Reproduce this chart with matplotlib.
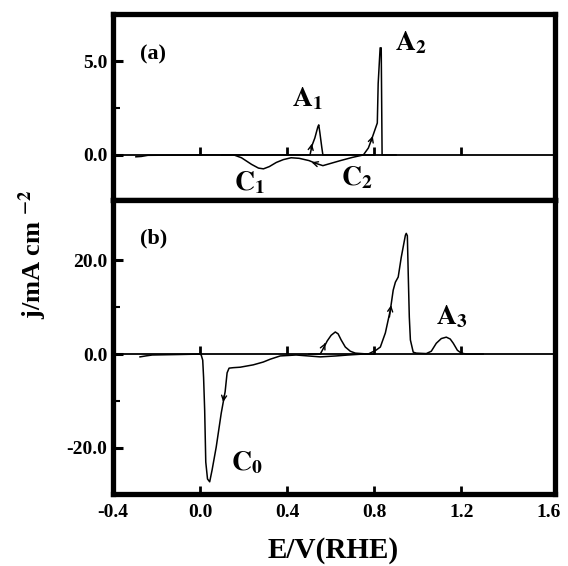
import numpy as np
import matplotlib.pyplot as plt

plt.rcParams['font.family'] = 'Liberation Serif'
plt.rcParams['font.weight'] = 'bold'
plt.rcParams['mathtext.fontset'] = 'stix'

# painel (a): varredura anodica e catodica (E em V, j em mA cm-2)
Ea_pos = [-0.295, -0.27, -0.24, 0.0, 0.3, 0.505, 0.514, 0.527, 0.541, 0.545,
          0.55, 0.559, 0.564, 0.7, 0.75, 0.773, 0.79, 0.805, 0.814, 0.818,
          0.827, 0.832, 0.836, 0.9]
ja_pos = [-0.1, -0.08, -0.02, 0.0, 0.0, 0.0, 0.5, 0.9, 1.5, 1.6,
          1.2, 0.4, 0.0, 0.0, 0.0, 0.37, 0.9, 1.4, 1.7, 3.8,
          5.7, 5.7, 0.0, 0.0]
Ea_neg = [0.1, 0.155, 0.19, 0.236, 0.268, 0.291, 0.318, 0.35, 0.382, 0.418,
          0.455, 0.5, 0.532, 0.564, 0.6, 0.645, 0.7, 0.75, 0.8]
ja_neg = [0.0, 0.0, -0.15, -0.5, -0.7, -0.74, -0.62, -0.4, -0.25, -0.15,
          -0.18, -0.3, -0.45, -0.57, -0.45, -0.3, -0.13, 0.0, 0.0]

# painel (b)
Eb_pos = [0.5, 0.552, 0.566, 0.584, 0.602, 0.621, 0.634, 0.648, 0.667, 0.69,
          0.713, 0.772, 0.809, 0.828, 0.851, 0.874, 0.887, 0.897, 0.91, 0.924,
          0.943, 0.947, 0.952, 0.956, 0.961, 0.966, 0.979, 0.993, 1.039, 1.062,
          1.085, 1.108, 1.131, 1.149, 1.163, 1.182, 1.2, 1.223, 1.3]
jb_pos = [0.0, 0.0, 1.2, 2.8, 4.0, 4.7, 4.3, 3.0, 1.5, 0.6,
          0.2, 0.0, 0.85, 1.5, 4.5, 9.4, 13.6, 15.3, 16.4, 20.6,
          25.3, 25.7, 25.2, 17.2, 7.9, 3.0, 0.4, 0.2, 0.1, 0.6,
          2.3, 3.3, 3.6, 3.2, 2.3, 0.8, 0.2, 0.0, 0.0]
Eb_neg = [-0.276, -0.25, -0.22, -0.1, 0.0, 0.005, 0.012, 0.016, 0.021, 0.026,
          0.034, 0.044, 0.055, 0.074, 0.097, 0.115, 0.124, 0.133, 0.152, 0.184,
          0.244, 0.29, 0.322, 0.368, 0.441, 0.552, 0.625, 0.68, 0.749, 0.8]
jb_neg = [-0.6, -0.4, -0.2, -0.1, 0.0, -0.2, -1.3, -5.0, -12.0, -23.0,
          -26.6, -27.2, -24.7, -19.8, -12.6, -8.0, -4.0, -3.0, -2.9, -2.8,
          -2.3, -1.7, -1.1, -0.4, -0.2, -0.6, -0.4, -0.2, 0.0, 0.0]

xticks = [-0.4, 0.0, 0.4, 0.8, 1.2, 1.6]
xticklabels = ['-0.4', '0.0', '0.4', '0.8', '1.2', '1.6']
xlim = (-0.4, 1.63)
ylim_a = (-2.4, 7.5)
ylim_b = (-29.8, 32.8)

fig = plt.figure(figsize=(5.68, 5.66), dpi=100)
ax_a = fig.add_axes([0.199, 0.6466, 0.778, 0.3286])
ax_b = fig.add_axes([0.199, 0.1272, 0.778, 0.5194])

arr = dict(arrowstyle='->', lw=1.0, color='black', mutation_scale=9)

def style(ax, ylim, yt, ytl, ymin):
    ax.set_xlim(xlim)
    ax.set_ylim(ylim)
    for s in ax.spines.values():
        s.set_linewidth(3.8)
    ax.set_yticks(yt)
    ax.set_yticklabels(ytl, fontsize=14, fontweight='bold')
    ax.set_yticks(ymin, minor=True)
    ax.tick_params(axis='y', which='major', direction='in', length=7, width=2.2, pad=4)
    ax.tick_params(axis='y', which='minor', direction='in', length=5, width=1.5)
    # linha do zero com marcas
    frac = (0 - ylim[0]) / (ylim[1] - ylim[0])
    sec = ax.secondary_xaxis(frac)
    sec.set_xticks([0.0, 0.4, 0.8, 1.2])
    sec.set_xticklabels([])
    sec.tick_params(direction='in', length=6, width=2)
    sec.spines['bottom'].set_linewidth(1.3)

# (a)
ax = ax_a
style(ax, ylim_a, [0.0, 5.0], ['0.0', '5.0'], [2.5])
ax.set_xticks([])
ax.plot(Ea_pos, ja_pos, color='black', lw=1.1)
ax.plot(Ea_neg, ja_neg, color='black', lw=1.1)
ax.annotate('', xy=(0.516, 0.75), xytext=(0.507, 0.2), arrowprops=arr)
ax.annotate('', xy=(0.512, -0.39), xytext=(0.535, -0.47), arrowprops=arr)
ax.annotate('', xy=(0.797, 1.15), xytext=(0.782, 0.6), arrowprops=arr)
ax.text(-0.215, 5.37, '(a)', fontsize=16, fontweight='bold', ha='center', va='center')
ax.text(0.495, 3.0, r'$\mathbf{A}_{\mathbf{1}}$', fontsize=20, ha='center', va='center')
ax.text(0.97, 6.0, r'$\mathbf{A}_{\mathbf{2}}$', fontsize=20, ha='center', va='center')
ax.text(0.225, -1.5, r'$\mathbf{C}_{\mathbf{1}}$', fontsize=20, ha='center', va='center')
ax.text(0.72, -1.2, r'$\mathbf{C}_{\mathbf{2}}$', fontsize=20, ha='center', va='center')

# (b)
ax = ax_b
style(ax, ylim_b, [-20.0, 0.0, 20.0], ['-20.0', '0.0', '20.0'], [-10.0, 10.0])
ax.set_xticks(xticks)
ax.set_xticklabels(xticklabels, fontsize=14, fontweight='bold')
ax.tick_params(axis='x', direction='in', length=6, width=2, pad=7)
ax.xaxis.get_major_ticks()[-1].tick1line.set_visible(False)
ax.xaxis.get_major_ticks()[0].tick1line.set_visible(False)
ax.plot(Eb_pos, jb_pos, color='black', lw=1.1)
ax.plot(Eb_neg, jb_neg, color='black', lw=1.1)
ax.annotate('', xy=(0.581, 2.9), xytext=(0.568, 1.6), arrowprops=arr)
ax.annotate('', xy=(0.879, 11.0), xytext=(0.868, 7.3), arrowprops=arr)
ax.annotate('', xy=(0.104, -10.8), xytext=(0.112, -8.3), arrowprops=arr)
ax.text(-0.215, 24.7, '(b)', fontsize=16, fontweight='bold', ha='center', va='center')
ax.text(1.155, 7.9, r'$\mathbf{A}_{\mathbf{3}}$', fontsize=20, ha='center', va='center')
ax.text(0.215, -23.2, r'$\mathbf{C}_{\mathbf{0}}$', fontsize=20, ha='center', va='center')

fig.text(0.058, 0.55, r'j/mA cm $^{\mathbf{-2}}$', rotation=90, fontsize=19,
         fontweight='bold', ha='center', va='center')
fig.text(0.587, 0.028, 'E/V(RHE)', fontsize=21, fontweight='bold', ha='center', va='center')

fig.savefig('out.png', dpi=100)
